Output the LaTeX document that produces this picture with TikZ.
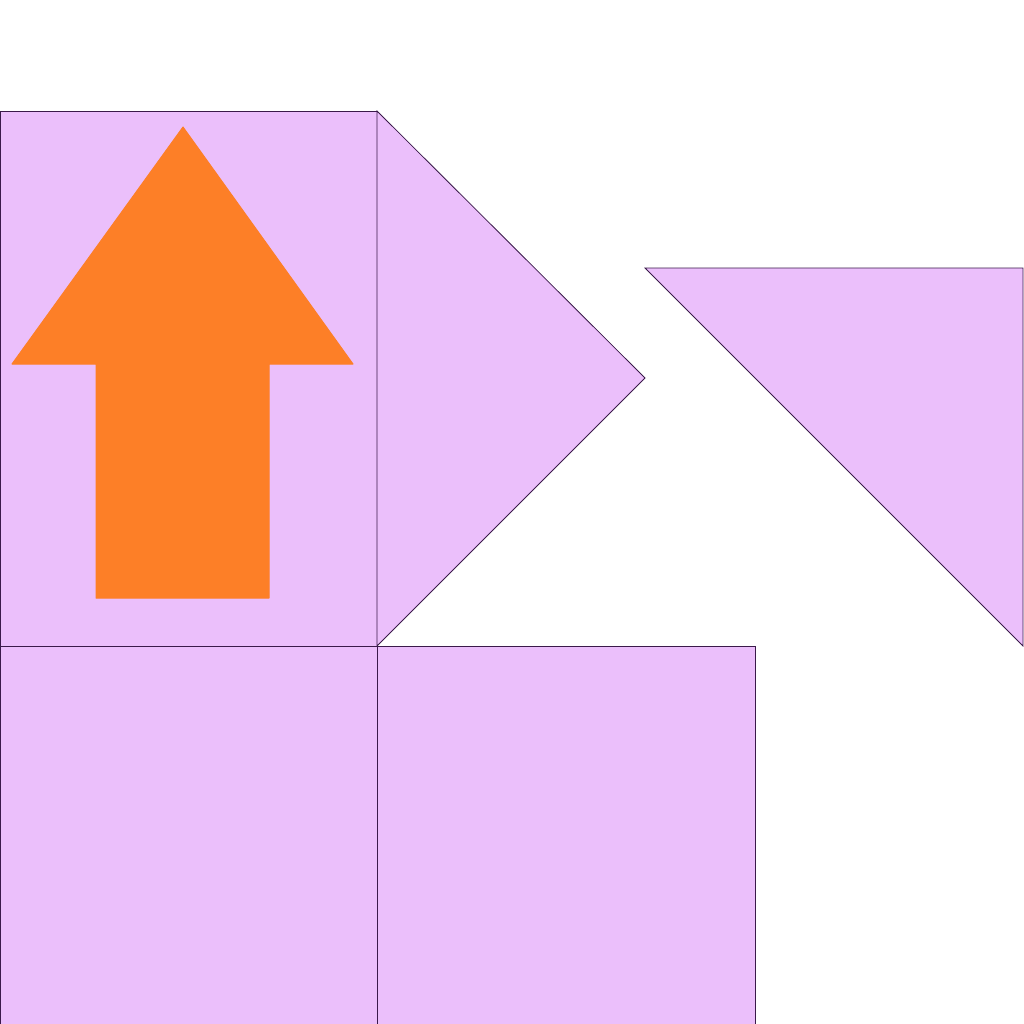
\documentclass[tikz,border=0pt]{standalone}
\definecolor{lilac}{RGB}{235,191,251}
\definecolor{plum}{RGB}{58,26,74}
\definecolor{tangerine}{RGB}{253,127,39}
\tikzset{
  piece/.style={draw=plum, line width=0.8pt, fill=lilac, line join=miter},
  arrowshape/.style={fill=tangerine, draw=tangerine, line width=1pt, line join=round}
}
\begin{document}
\begin{tikzpicture}[x=1pt, y=-1pt]
    \useasboundingbox (0,0) rectangle (1024,1024);

    % top left square
    \draw[piece] (0,111) rectangle (377,646);

    % triangle beside it
    \draw[piece] (377,111) -- (645,378) -- (377,646) -- cycle;

    % loose triangle on the right
    \draw[piece] (645,268) -- (1023,268) -- (1023,646) -- cycle;

    % bottom squares
    \draw[piece] (0,646) rectangle (377,1024);
    \draw[piece] (377,646) rectangle (755,1024);

    % up arrow
    \draw[arrowshape] (183,127) -- (353,364) -- (269,364) -- (269,598)
        -- (96,598) -- (96,364) -- (12,364) -- cycle;
\end{tikzpicture}
\end{document}
